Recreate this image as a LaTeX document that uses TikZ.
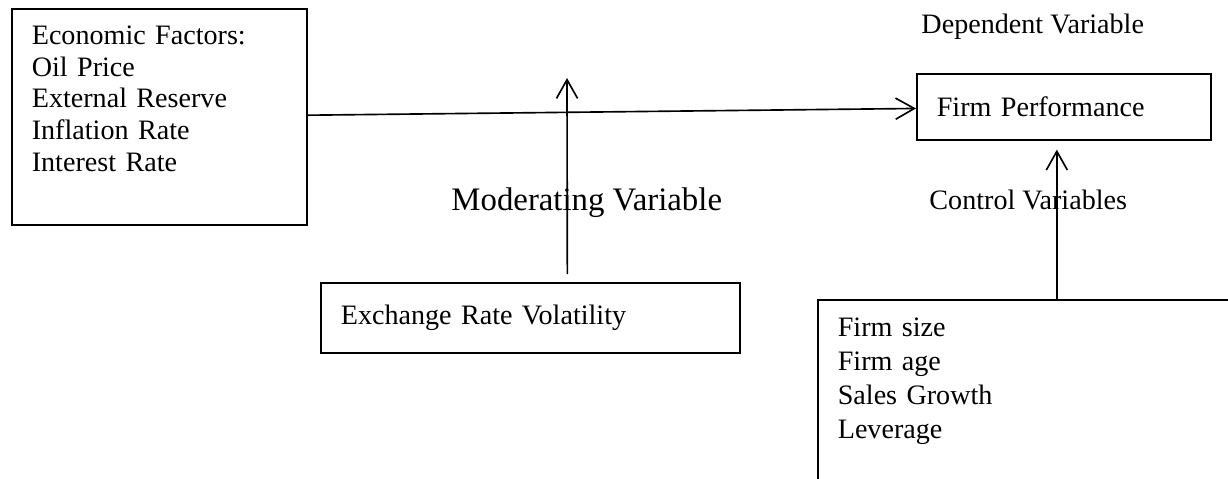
\documentclass[tikz,border=0pt]{standalone}
\usepackage{fontspec}
\setmainfont{Liberation Serif}
\usetikzlibrary{arrows.meta,positioning,calc}

\begin{document}
\begin{tikzpicture}[
    x=0.015cm, y=-0.015cm,
    font=\fontsize{12}{14}\selectfont,
    box/.style={rectangle, draw, line width=0.7pt, anchor=north west, align=left, inner xsep=0.3cm},
    heading/.style={inner sep=0pt, anchor=west},
    arrow/.style={-{Straight Barb[length=8pt,width=9pt]}, line width=0.7pt}
]
    \useasboundingbox (0,0) rectangle (1228,478);
    \clip (0,0) rectangle (1228,478);

    \node[box, text width=3.825cm, minimum height=3.24cm, inner ysep=0.2cm, font=\fontsize{12}{13.6}\selectfont] (econ) at (11,8) {Economic Factors:\\Oil Price\\External Reserve\\Inflation Rate\\Interest Rate\\[2pt]\mbox{}};
    \node[box, text width=3.81cm, minimum height=0.99cm] (firmperf) at (916,73) {Firm Performance};
    \node[box, text width=5.685cm, minimum height=1.05cm] (exch) at (320,282) {Exchange Rate Volatility};
    \node[box, text width=5.7cm, inner ysep=0.27cm, font=\fontsize{12}{14.5}\selectfont] (controls) at (817,299) {Firm size\\Firm age\\Sales Growth\\Leverage\\[1cm]\mbox{}};

    \node[heading] (dep) at (921,27) {Dependent Variable};
    \node[heading, font=\fontsize{14}{17}\selectfont] (moder) at (451,203) {Moderating Variable};
    \node[heading] (ctrl) at (929,200) {Control Variables};

    \coordinate (modtip) at (567,78);

    \draw[arrow] (econ) -- (firmperf);
    \draw[arrow] ($(exch.north)+(37,-8)$) -- (modtip);
    \draw[arrow] ($(firmperf.south |- controls.north)+(-7,0)$) -- ($(firmperf.south)+(-7,9)$);
\end{tikzpicture}
\end{document}
